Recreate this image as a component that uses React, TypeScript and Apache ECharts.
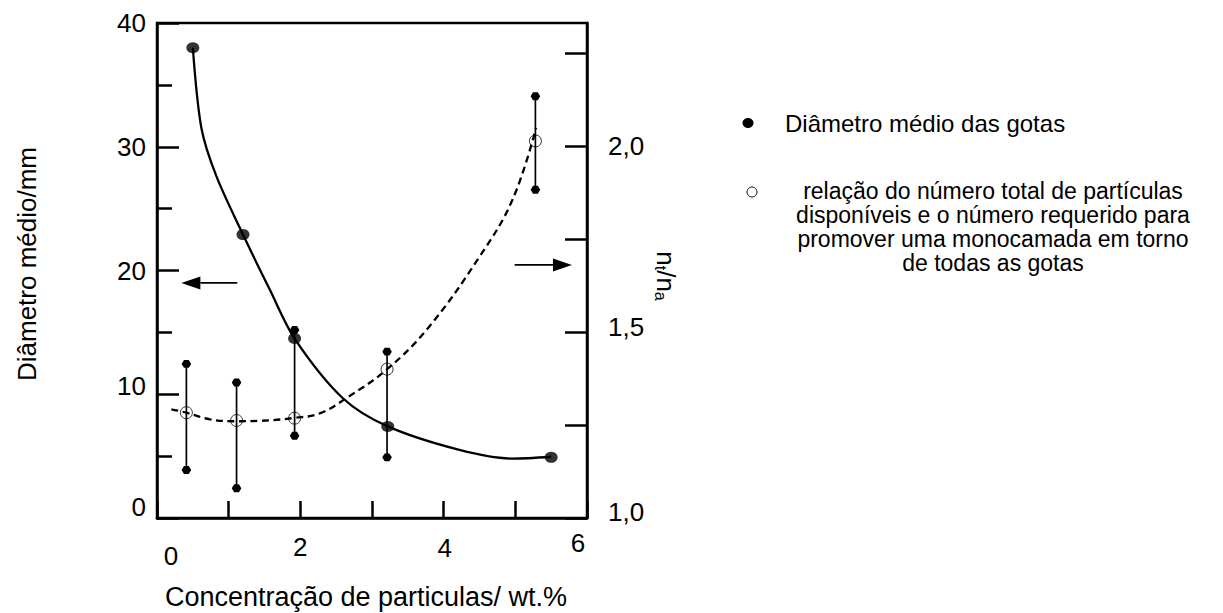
import React, { useEffect, useRef } from 'react';
import * as echarts from 'echarts';

// Tick labels
const xTickValues = [0, 2, 4, 6];
const xTickLabels = ['0', '2', '4', '6'];
const leftTickLabels = ['0', '10', '20', '30', '40'];
const rightTickValues = [1.0, 1.5, 2.0];
const rightTickLabels = ['1,0', '1,5', '2,0'];

// Mean droplet diameter (mm) vs particle concentration (wt.%)
const diameterPoints: [number, number][] = [
  [0.5, 38.0],
  [1.2, 22.9],
  [1.92, 14.5],
  [3.22, 7.4],
  [5.5, 4.9],
];
// Fitted curve through the diameter data
const diameterCurve: [number, number][] = [
  [0.5, 38.0],
  [0.62, 31.5],
  [0.83, 27.6],
  [1.2, 22.9],
  [1.57, 18.5],
  [1.92, 14.5],
  [2.59, 9.7],
  [3.22, 7.4],
  [4.22, 5.5],
  [4.96, 4.8],
  [5.5, 4.95],
];

// Ratio nt/na (right axis)
const ratioPoints: [number, number][] = [
  [0.41, 1.283],
  [1.11, 1.262],
  [1.92, 1.268],
  [3.21, 1.4],
  [5.28, 2.013],
];
// Spread of the ratio: [x, low, high]
const ratioRange: [number, number, number][] = [
  [0.41, 1.129, 1.414],
  [1.11, 1.08, 1.364],
  [1.92, 1.221, 1.505],
  [3.21, 1.163, 1.447],
  [5.28, 1.882, 2.133],
];
// Dashed trend of the ratio
const ratioCurve: [number, number][] = [
  [0.2, 1.292],
  [0.41, 1.283],
  [0.74, 1.265],
  [1.11, 1.26],
  [1.43, 1.261],
  [1.92, 1.269],
  [2.27, 1.281],
  [2.64, 1.322],
  [3.2, 1.398],
  [3.78, 1.51],
  [4.5, 1.702],
  [4.96, 1.855],
  [5.29, 2.048],
];

// Arrows pointing at the axis each curve belongs to: [xTail, yTail, xTip, yTip]
const leftArrow: number[][] = [[1.12, 19.0, 0.34, 19.0]];
const rightArrow: number[][] = [[4.99, 1.68, 5.79, 1.68]];

const FONT = '"Liberation Sans", Arial, sans-serif';

const legendLine1 = 'Diâmetro médio das gotas';
const legendLine2 =
  'relação do número total de partículas\ndisponíveis e o número requerido para\npromover uma monocamada em torno\nde todas as gotas';

function hexagon(cx: number, cy: number, r: number): number[][] {
  const pts: number[][] = [];
  for (let i = 0; i < 6; i++) {
    const a = (Math.PI / 3) * i;
    pts.push([cx + r * Math.cos(a), cy + r * 0.95 * Math.sin(a)]);
  }
  return pts;
}

// Arrow glyph: shaft plus filled triangular head
function renderArrow(_params: any, api: any) {
  const tail = api.coord([api.value(0), api.value(1)]);
  const tip = api.coord([api.value(2), api.value(3)]);
  const dx = tip[0] - tail[0];
  const dy = tip[1] - tail[1];
  const len = Math.hypot(dx, dy) || 1;
  const ux = dx / len;
  const uy = dy / len;
  const headLen = 19;
  const halfW = 6.5;
  const bx = tip[0] - ux * headLen;
  const by = tip[1] - uy * headLen;
  return {
    type: 'group',
    children: [
      {
        type: 'line',
        shape: { x1: tail[0], y1: tail[1], x2: bx, y2: by },
        style: { stroke: '#000', lineWidth: 1.6 },
      },
      {
        type: 'polygon',
        shape: {
          points: [
            [tip[0], tip[1]],
            [bx - uy * halfW, by + ux * halfW],
            [bx + uy * halfW, by - ux * halfW],
          ],
        },
        style: { fill: '#000' },
      },
    ],
  };
}

export default function App() {
  const ref = useRef<HTMLDivElement>(null);

  useEffect(() => {
    if (!ref.current) return;
    const chart = echarts.init(ref.current, undefined, { renderer: 'svg' });

    const axisLineStyle = { color: '#000', width: 2.5 };
    const labelBase = { color: '#000', fontSize: 26, fontFamily: FONT };

    chart.setOption({
      animation: false,
      backgroundColor: '#fff',
      grid: {
        left: 157,
        top: 23,
        width: 430,
        height: 495,
        show: true,
        borderColor: '#000',
        borderWidth: 2.5,
        containLabel: false,
        outerBoundsMode: 'none',
      },
      xAxis: {
        type: 'value',
        min: 0,
        max: 6,
        interval: 1,
        axisLine: { show: true, onZero: false, lineStyle: axisLineStyle },
        axisTick: { show: true, inside: true, length: 17, lineStyle: axisLineStyle },
        splitLine: { show: false },
        axisLabel: {
          margin: 12,
          ...labelBase,
          formatter: (v: number) => {
            const i = xTickValues.indexOf(v);
            return i < 0 ? '' : `{x${v}|${xTickLabels[i]}}`;
          },
          rich: {
            x0: { ...labelBase, padding: [13, 0, 0, 28] },
            x2: { ...labelBase, padding: [4, 0, 0, 0] },
            x4: { ...labelBase, padding: [5, 0, 0, 2] },
            x6: { ...labelBase, padding: [0, 18, 0, 0] },
          },
        },
      },
      yAxis: [
        {
          type: 'value',
          position: 'left',
          min: 0,
          max: 40,
          interval: 10,
          axisLine: { show: true, onZero: false, lineStyle: axisLineStyle },
          axisTick: { show: true, inside: true, length: 22, lineStyle: axisLineStyle },
          minorTick: { show: true, splitNumber: 2, length: 15, lineStyle: axisLineStyle },
          splitLine: { show: false },
          axisLabel: {
            margin: 11,
            ...labelBase,
            formatter: (v: number) => {
              const i = Math.round(v / 10);
              return `{y${i}|${leftTickLabels[i] ?? ''}}`;
            },
            rich: {
              y0: { ...labelBase, padding: [0, 0, 22, 0] },
              y1: { ...labelBase, padding: [0, 0, 16, 0] },
              y2: { ...labelBase },
              y3: { ...labelBase },
              y4: { ...labelBase },
            },
          },
        },
        {
          type: 'value',
          position: 'right',
          min: 1,
          max: 2.33,
          interval: 0.25,
          axisLine: { show: true, onZero: false, lineStyle: axisLineStyle },
          axisTick: { show: true, inside: true, length: 22, lineStyle: axisLineStyle },
          splitLine: { show: false },
          axisLabel: {
            margin: 21,
            ...labelBase,
            showMaxLabel: false,
            formatter: (v: number) => {
              const i = rightTickValues.findIndex((t) => Math.abs(t - v) < 1e-6);
              return i < 0 ? '' : `{r${i}|${rightTickLabels[i]}}`;
            },
            rich: {
              r0: { ...labelBase, padding: [0, 0, 12, 0] },
              r1: { ...labelBase, padding: [0, 0, 10, 0] },
              r2: { ...labelBase },
            },
          },
        },
      ],
      series: [
        {
          name: 'curva diâmetro',
          type: 'line',
          yAxisIndex: 0,
          data: diameterCurve,
          smooth: 0.3,
          symbol: 'none',
          lineStyle: { color: '#000', width: 2.3 },
          z: 2,
        },
        {
          name: 'curva relação',
          type: 'line',
          yAxisIndex: 1,
          data: ratioCurve,
          smooth: 0.4,
          symbol: 'none',
          lineStyle: { color: '#000', width: 2.3, type: [7, 4.5] },
          z: 2,
        },
        {
          name: 'faixa relação',
          type: 'custom',
          yAxisIndex: 1,
          data: ratioRange,
          encode: { x: 0, y: [1, 2] },
          renderItem: (_params: any, api: any) => {
            const x = api.value(0);
            const lo = api.coord([x, api.value(1)]);
            const hi = api.coord([x, api.value(2)]);
            return {
              type: 'group',
              children: [
                {
                  type: 'line',
                  shape: { x1: lo[0], y1: lo[1], x2: hi[0], y2: hi[1] },
                  style: { stroke: '#000', lineWidth: 1.7 },
                },
                { type: 'polygon', shape: { points: hexagon(lo[0], lo[1], 4.8) }, style: { fill: '#000' } },
                { type: 'polygon', shape: { points: hexagon(hi[0], hi[1], 4.8) }, style: { fill: '#000' } },
              ],
            };
          },
          z: 3,
        },
        {
          name: legendLine1,
          type: 'scatter',
          yAxisIndex: 0,
          data: diameterPoints,
          symbol: 'circle',
          symbolSize: [13, 11],
          itemStyle: { color: '#000' },
          z: 4,
        },
        {
          name: 'relação',
          type: 'scatter',
          yAxisIndex: 1,
          data: ratioPoints,
          symbol: 'circle',
          symbolSize: 12,
          itemStyle: { color: 'rgba(255,255,255,0)', borderColor: '#000', borderWidth: 1 },
          z: 4,
        },
        {
          name: 'seta esquerda',
          type: 'custom',
          yAxisIndex: 0,
          data: leftArrow,
          encode: { x: [0, 2], y: [1, 3] },
          renderItem: renderArrow,
          silent: true,
          z: 5,
        },
        {
          name: 'seta direita',
          type: 'custom',
          yAxisIndex: 1,
          data: rightArrow,
          encode: { x: [0, 2], y: [1, 3] },
          renderItem: renderArrow,
          silent: true,
          z: 5,
        },
      ],
      graphic: [
        {
          type: 'text',
          x: 27,
          y: 264,
          rotation: Math.PI / 2,
          style: {
            text: 'Diâmetro médio/mm',
            fontSize: 26,
            fontFamily: FONT,
            fill: '#000',
            align: 'center',
            verticalAlign: 'middle',
          },
        },
        {
          type: 'text',
          x: 666,
          y: 276,
          rotation: -Math.PI / 2,
          style: {
            text: 'n{s|t}/n{s|a}',
            fontSize: 26,
            fontFamily: FONT,
            fill: '#000',
            align: 'center',
            verticalAlign: 'middle',
            rich: {
              s: { fontSize: 16, fontFamily: FONT, fill: '#000', padding: [12, 0, 0, 0] },
            },
          },
        },
        {
          type: 'text',
          x: 366,
          y: 597,
          style: {
            text: 'Concentração de particulas/ wt.%',
            fontSize: 27,
            fontFamily: FONT,
            fill: '#000',
            align: 'center',
            verticalAlign: 'middle',
          },
        },
        {
          type: 'ellipse',
          shape: { cx: 748, cy: 123, rx: 5.5, ry: 5 },
          style: { fill: '#000' },
        },
        {
          type: 'text',
          x: 785,
          y: 123,
          style: {
            text: legendLine1,
            fontSize: 24,
            fontFamily: FONT,
            fill: '#000',
            align: 'left',
            verticalAlign: 'middle',
          },
        },
        {
          type: 'circle',
          shape: { cx: 752, cy: 192, r: 5 },
          style: { fill: 'none', stroke: '#000', lineWidth: 1 },
        },
        {
          type: 'text',
          x: 993,
          y: 179,
          style: {
            text: legendLine2,
            fontSize: 23,
            lineHeight: 24,
            fontFamily: FONT,
            fill: '#000',
            align: 'center',
            verticalAlign: 'top',
          },
        },
      ],
    });

    return () => chart.dispose();
  }, []);

  return (
    <div
      ref={ref}
      style={{ position: 'fixed', left: 0, top: 0, width: 1223, height: 613, background: '#fff' }}
    />
  );
}
